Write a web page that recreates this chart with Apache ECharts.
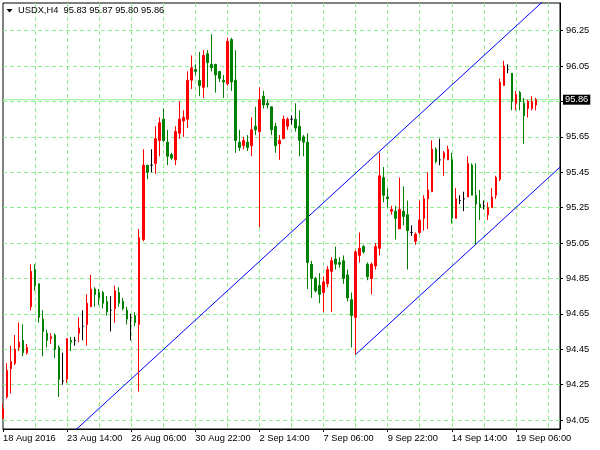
<!DOCTYPE html>
<html>
<head>
<meta charset="utf-8">
<script src="https://cdn.jsdelivr.net/npm/echarts@6/dist/echarts.min.js"></script>
<style>
html,body{margin:0;padding:0;background:#fff;}
#chart{width:600px;height:450px;}
</style>
</head>
<body>
<div id="chart"></div>
<script>
// ---- data (USDX, H4) ----
const symbolName = 'USDX,H4';
const openP = [94.06,94.18,94.34,94.37,94.46,94.50,94.43,94.69,94.90,94.82,
94.62,94.54,94.51,94.53,94.46,94.27,94.28,94.50,94.50,94.54,
94.58,94.59,94.69,94.79,94.77,94.77,94.72,94.67,94.68,94.77,
94.72,94.67,94.63,94.64,94.59,95.07,95.49,95.49,95.50,95.63,
95.75,95.62,95.55,95.52,95.67,95.74,95.75,95.97,96.03,95.97,
95.93,96.12,96.06,96.06,96.02,95.97,95.95,96.20,95.97,95.62,
95.60,95.62,95.60,95.71,95.68,95.88,95.84,95.82,95.71,95.61,
95.64,95.71,95.75,95.75,95.71,95.65,95.62,94.93,94.85,94.81,
94.77,94.82,94.89,94.96,94.94,94.95,94.87,94.73,94.63,94.98,
95.03,94.93,94.85,94.92,95.02,95.42,95.31,95.23,95.23,95.13,
95.23,95.21,95.11,95.06,95.11,95.19,95.30,95.34,95.58,95.52,
95.53,95.52,95.52,95.19,95.29,95.30,95.31,95.49,95.32,95.27,
95.26,95.21,95.25,95.32,95.41,95.94,96.03,96.01,95.84,95.90,
95.84,95.81,95.81,95.83];
const highP = [94.14,94.37,94.47,94.53,94.60,94.59,94.48,94.93,94.93,94.82,
94.67,94.56,94.54,94.54,94.47,94.43,94.51,94.52,94.52,94.63,
94.67,94.76,94.87,94.80,94.79,94.78,94.75,94.75,94.81,94.80,
94.74,94.69,94.65,94.66,95.13,95.58,95.49,95.58,95.71,95.76,
95.81,95.69,95.56,95.71,95.85,95.80,96.02,96.11,96.06,96.13,
96.14,96.14,96.23,96.06,96.02,96.00,96.21,96.21,96.14,95.69,
95.65,95.66,95.76,95.82,95.93,95.91,95.86,95.82,95.73,95.66,
95.77,95.76,95.77,95.84,95.80,95.66,95.67,94.95,94.86,94.88,
94.86,94.92,94.97,95.03,94.97,94.98,94.90,94.77,95.01,95.11,
95.04,94.94,94.94,95.05,95.56,95.48,95.36,95.26,95.26,95.42,
95.37,95.29,95.15,95.11,95.29,95.32,95.45,95.63,95.59,95.64,
95.57,95.60,95.56,95.36,95.32,95.34,95.54,95.50,95.50,95.35,
95.29,95.28,95.36,95.43,95.98,96.08,96.06,96.01,95.91,95.91,
95.87,95.86,95.88,95.87];
const lowP = [94.06,94.17,94.20,94.36,94.44,94.41,94.42,94.67,94.78,94.60,
94.41,94.46,94.48,94.40,94.18,94.25,94.26,94.44,94.47,94.49,
94.50,94.47,94.69,94.69,94.70,94.68,94.64,94.55,94.60,94.69,
94.67,94.59,94.50,94.58,94.21,95.06,95.41,95.45,95.44,95.54,
95.62,95.49,95.52,95.49,95.64,95.65,95.70,95.92,96.00,95.88,
95.87,95.93,96.02,95.90,95.96,95.87,95.94,95.91,95.56,95.57,
95.58,95.57,95.54,95.66,95.14,95.81,95.81,95.66,95.56,95.52,
95.64,95.69,95.72,95.68,95.54,95.54,94.79,94.74,94.77,94.71,
94.66,94.80,94.66,94.90,94.91,94.82,94.72,94.46,94.42,94.94,
94.99,94.84,94.76,94.90,94.98,95.28,95.25,95.21,95.07,95.13,
95.15,94.90,95.09,95.04,95.10,95.12,95.13,95.34,95.50,95.49,
95.43,95.52,95.16,95.19,95.27,95.23,95.31,95.32,95.04,95.18,
95.24,95.18,95.25,95.30,95.40,95.94,96.01,95.80,95.80,95.80,
95.61,95.76,95.80,95.80];
const closeP = [94.11,94.33,94.38,94.45,94.49,94.43,94.46,94.89,94.81,94.63,
94.55,94.50,94.52,94.45,94.28,94.27,94.51,94.49,94.50,94.57,
94.58,94.71,94.79,94.76,94.74,94.71,94.66,94.67,94.78,94.71,
94.68,94.62,94.63,94.60,95.08,95.49,95.45,95.49,95.64,95.73,
95.63,95.54,95.53,95.68,95.75,95.76,95.97,96.04,96.02,95.94,
96.11,96.07,96.04,96.00,95.98,95.96,96.19,95.96,95.63,95.59,
95.63,95.59,95.69,95.69,95.86,95.83,95.83,95.69,95.60,95.63,
95.75,95.75,95.75,95.70,95.63,95.62,94.94,94.85,94.78,94.76,
94.83,94.90,94.95,94.93,94.93,94.85,94.74,94.64,95.00,95.02,
95.00,94.86,94.93,95.03,95.43,95.32,95.30,95.24,95.19,95.24,
95.20,95.12,95.11,95.10,95.18,95.30,95.35,95.58,95.51,95.52,
95.56,95.58,95.19,95.30,95.29,95.30,95.50,95.32,95.27,95.25,
95.26,95.25,95.31,95.42,95.96,96.05,96.03,95.85,95.89,95.85,
95.77,95.85,95.85,95.86];

// time-axis tick labels (one every 16 bars, starting at the first bar)
const timeTickLabels = ['18 Aug 2016','23 Aug 14:00','26 Aug 06:00','30 Aug 22:00','2 Sep 14:00','7 Sep 06:00','9 Sep 22:00','14 Sep 14:00','19 Sep 06:00'];
const barsPerTimeLabel = 16;
const barsPerGridLine = 8;
// price-axis ticks
const priceTicks = [94.05,94.25,94.45,94.65,94.85,95.05,95.25,95.45,95.65,95.85,96.05,96.25];
// channel lines: [bar index, price] anchors
const channelUpper = [[18, 93.991],[139, 96.504]];
const channelLower = [[88, 94.42],[139, 95.479]];

// ---- build ----
const nBars = openP.length;
const axisEnd = 139;
const categories = openP.map((_, i) => String(i));
const lastIdx = nBars - 1;
const lastPrice = closeP[lastIdx];
const FONT = 'Liberation Sans';
const FS = 9.3;
const gridGreen = '#90ee90';
const priceLineGreen = '#90ee90';

const candleData = openP.map((o, i) => {
  const item = { value: [o, closeP[i], lowP[i], highP[i]] };
  if (o === closeP[i]) {
    item.itemStyle = { borderColor: '#000', borderColor0: '#000', color: '#000', color0: '#000' };
  }
  return item;
});

const titleText = symbolName + '  ' + [openP[lastIdx], highP[lastIdx], lowP[lastIdx], closeP[lastIdx]].map(v => v.toFixed(2)).join(' ');

const chart = echarts.init(document.getElementById('chart'), null, { renderer: 'canvas' });
chart.setOption({
  animation: false,
  backgroundColor: '#ffffff',
  grid: { left: 3, right: 40, top: 3, bottom: 21, show: true, borderColor: '#000', borderWidth: 1, backgroundColor: '#fff' },
  xAxis: {
    type: 'category',
    data: categories,
    boundaryGap: false,
    max: axisEnd,
    axisLine: { show: true, lineStyle: { color: '#000', width: 1 } },
    axisTick: { show: true, length: 3, interval: (i) => i % barsPerTimeLabel === 0 && i < nBars, lineStyle: { color: '#000' } },
    axisLabel: {
      interval: (i) => i % barsPerTimeLabel === 0 && i < nBars,
      formatter: (v, i) => timeTickLabels[i / barsPerTimeLabel] || '',
      align: 'left', margin: 5, color: '#000', fontFamily: FONT, fontSize: FS
    },
    splitLine: { show: true, interval: (i) => i > 0 && i % barsPerGridLine === 0, lineStyle: { color: gridGreen, width: 1, type: [4, 3] } }
  },
  yAxis: {
    type: 'value',
    position: 'right',
    min: 93.999,
    max: 96.4065,
    axisLine: { show: true, lineStyle: { color: '#000', width: 1 } },
    axisTick: { show: true, length: 3, customValues: priceTicks, lineStyle: { color: '#000' } },
    axisLabel: {
      customValues: priceTicks.filter(v => Math.abs(v - lastPrice) > 0.03),
      formatter: (v) => Number(v).toFixed(2),
      margin: 6, color: '#000', fontFamily: FONT, fontSize: FS
    },
    splitLine: { show: true, lineStyle: { color: gridGreen, width: 1, type: [4, 3] } }
  },
  graphic: [
    { type: 'polygon', silent: true, z: 100, shape: { points: [[6.5, 9], [12.5, 9], [9.5, 12.5]] }, style: { fill: '#000' } },
    { type: 'text', silent: true, z: 100, left: 18, top: 6, style: { text: titleText, font: FS + 'px "' + FONT + '"', fill: '#000' } }
  ],
  series: [
    {
      // current price line with price tag
      type: 'line', data: [[0, lastPrice], [axisEnd, lastPrice]], showSymbol: false, symbol: 'none', silent: true, clip: false,
      lineStyle: { color: priceLineGreen, width: 1, type: 'solid' }, z: 2,
      endLabel: {
        show: true, distance: 3,
        formatter: () => lastPrice.toFixed(2),
        color: '#fff', backgroundColor: '#000', padding: [1, 2, 0, 2],
        fontFamily: FONT, fontSize: FS
      }
    },
    {
      type: 'line', data: channelUpper, showSymbol: false, symbol: 'none', silent: true, clip: true,
      lineStyle: { color: '#0000ff', width: 1 }, z: 3
    },
    {
      type: 'line', data: channelLower, showSymbol: false, symbol: 'none', silent: true, clip: true,
      lineStyle: { color: '#0000ff', width: 1 }, z: 3
    },
    {
      type: 'candlestick',
      data: candleData,
      barWidth: 2,
      silent: true,
      z: 4,
      itemStyle: { color: '#ff0000', color0: '#008000', borderColor: '#ff0000', borderColor0: '#008000', borderWidth: 1 }
    }
  ]
});
</script>
</body>
</html>
